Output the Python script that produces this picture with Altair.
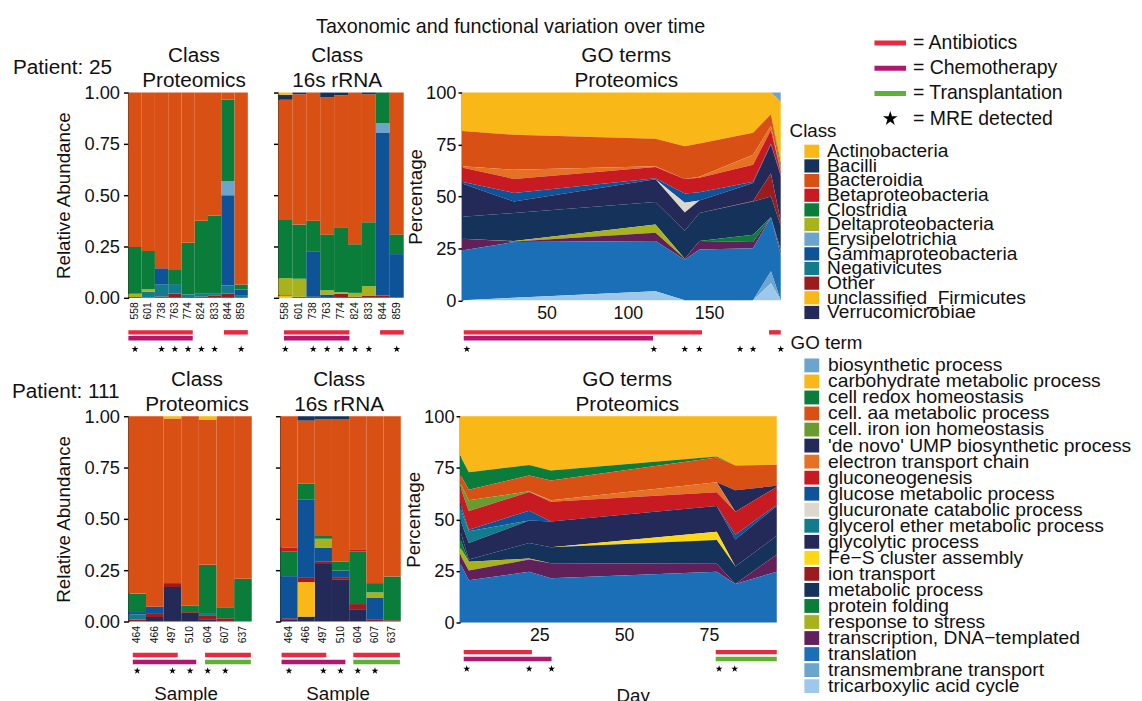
import altair as alt
import pandas as pd

FONT = "Liberation Sans"
INK = "#111111"

# ---------------- categories and colours ----------------
CLASS_NAMES = ["Actinobacteria", "Bacilli", "Bacteroidia", "Betaproteobacteria",
               "Clostridia", "Deltaproteobacteria", "Erysipelotrichia",
               "Gammaproteobacteria", "Negativicutes", "Other",
               "unclassified_Firmicutes", "Verrucomicrobiae"]
CLASS_COLORS = ["#F9B817", "#15325A", "#D95015", "#C81B21", "#0A7D3B", "#A7B21D",
                "#6BA4CC", "#0E5397", "#137C8C", "#9B1C1F", "#F9B817", "#232A58"]

GO_TERMS = ["biosynthetic process", "carbohydrate metabolic process",
            "cell redox homeostasis", "cell. aa metabolic process",
            "cell. iron ion homeostasis", "'de novo' UMP biosynthetic process",
            "electron transport chain", "gluconeogenesis",
            "glucose metabolic process", "glucuronate catabolic process",
            "glycerol ether metabolic process", "glycolytic process",
            "Fe\u2212S cluster assembly", "ion transport", "metabolic process",
            "protein folding", "response to stress",
            "transcription, DNA\u2212templated", "translation",
            "transmembrane transport", "tricarboxylic acid cycle"]
GO_COLORS = ["#6BA4CC", "#F9B817", "#0A7D3B", "#D95015", "#6A9B2E", "#232A58",
             "#E57224", "#C81B21", "#0E5397", "#DCD9CC", "#137C8C", "#232A58",
             "#FDD816", "#9B1C1F", "#15325A", "#0A7D3B", "#A7B21D", "#62205A",
             "#1B6FB6", "#6BA4CC", "#9DC8EB"]

TREAT_NAMES = ["Antibiotics", "Chemotherapy", "Transplantation"]
TREAT_COLORS = ["#E8293F", "#B1176F", "#5DB233"]
TREAT_LEGEND = ["= Antibiotics", "= Chemotherapy", "= Transplantation", "= MRE detected"]

# ---------------- patient 25 ----------------
P25_SAMPLES = [558, 601, 738, 763, 774, 824, 833, 844, 859]
P25_PROT = {
    "Other":               [0.004, 0.003, 0.006, 0.020, 0.004, 0.006, 0.012, 0.020, 0.000],
    "Negativicutes":       [0.000, 0.026, 0.058, 0.047, 0.012, 0.014, 0.008, 0.040, 0.010],
    "Gammaproteobacteria": [0.000, 0.000, 0.080, 0.000, 0.000, 0.000, 0.000, 0.440, 0.030],
    "Erysipelotrichia":    [0.000, 0.000, 0.000, 0.000, 0.000, 0.000, 0.000, 0.068, 0.000],
    "Deltaproteobacteria": [0.016, 0.013, 0.000, 0.000, 0.000, 0.000, 0.000, 0.000, 0.000],
    "Clostridia":          [0.228, 0.186, 0.000, 0.069, 0.252, 0.356, 0.380, 0.397, 0.025],
    "Bacteroidia":         [0.752, 0.772, 0.856, 0.864, 0.732, 0.624, 0.600, 0.035, 0.935],
}
P25_16S = {
    "unclassified_Firmicutes": [0.010, 0.000, 0.000, 0.000, 0.000, 0.000, 0.000, 0.000, 0.000],
    "Other":               [0.003, 0.005, 0.005, 0.004, 0.019, 0.006, 0.011, 0.011, 0.003],
    "Gammaproteobacteria": [0.000, 0.000, 0.222, 0.012, 0.000, 0.000, 0.000, 0.792, 0.210],
    "Erysipelotrichia":    [0.000, 0.000, 0.000, 0.000, 0.000, 0.000, 0.000, 0.048, 0.000],
    "Deltaproteobacteria": [0.083, 0.088, 0.000, 0.021, 0.008, 0.018, 0.045, 0.000, 0.000],
    "Clostridia":          [0.283, 0.264, 0.149, 0.272, 0.317, 0.237, 0.312, 0.149, 0.096],
    "Bacteroidia":         [0.586, 0.635, 0.624, 0.667, 0.643, 0.739, 0.624, 0.000, 0.691],
    "Bacilli":             [0.024, 0.008, 0.000, 0.024, 0.013, 0.000, 0.008, 0.000, 0.000],
    "Actinobacteria":      [0.011, 0.000, 0.000, 0.000, 0.000, 0.000, 0.000, 0.000, 0.000],
}
P25_MRE_SAMPLES = [558, 738, 763, 774, 824, 833, 859]
P25_PROT_TREAT = [("Antibiotics", 0.0, 4.85), ("Antibiotics", 7.2, 9.0), ("Chemotherapy", 0.0, 4.85)]
P25_16S_TREAT = [("Antibiotics", 0.4, 5.1), ("Antibiotics", 7.3, 9.0), ("Chemotherapy", 0.4, 5.1)]

P25_GO_DAYS = [-2, 30, 117, 135, 144, 177, 188, 194]
P25_GO = {
    "biosynthetic process":               [0.0, 0.0, 0.0, 0.0, 0.0, 0.0, 0.0, 4.5],
    "carbohydrate metabolic process":     [18.5, 20.3, 22.3, 25.8, 24.5, 19.3, 10.5, 29.5],
    "cell redox homeostasis":             [0.0, 0.0, 0.0, 0.0, 0.0, 0.0, 0.0, 2.0],
    "cell. aa metabolic process":         [17.0, 16.9, 13.2, 15.8, 16.0, 10.7, 5.5, 1.5],
    "electron transport chain":           [0.6, 4.4, 0.3, 0.0, 0.5, 4.8, 2.0, 0.5],
    "gluconeogenesis":                    [6.9, 6.7, 5.4, 7.0, 7.0, 8.2, 6.5, 1.5],
    "glucose metabolic process":          [0.8, 4.2, 0.5, 4.4, 4.0, 0.5, 0.5, 0.5],
    "glucuronate catabolic process":      [0.0, 0.0, 0.0, 4.8, 0.0, 0.0, 0.0, 0.0],
    "glycolytic process":                 [16.0, 5.5, 11.0, 8.7, 6.0, 8.7, 14.0, 22.0],
    "ion transport":                      [0.0, 0.0, 0.0, 0.0, 0.0, 0.3, 11.0, 2.0],
    "metabolic process":                  [10.6, 13.5, 10.8, 13.5, 13.5, 16.0, 10.0, 11.5],
    "protein folding":                    [0.0, 0.0, 0.0, 0.0, 0.0, 3.5, 0.0, 0.5],
    "response to stress":                 [0.0, 0.2, 4.0, 0.0, 0.0, 0.0, 0.0, 0.0],
    "transcription, DNA\u2212templated":  [5.6, 0.3, 4.0, 0.5, 4.0, 3.0, 0.0, 2.0],
    "translation":                        [24.0, 26.8, 24.2, 19.5, 24.5, 25.0, 26.0, 22.0],
    "transmembrane transport":            [0.0, 0.0, 0.0, 0.0, 0.0, 0.0, 5.8, 0.0],
    "tricarboxylic acid cycle":           [0.0, 1.2, 4.3, 0.0, 0.0, 0.0, 8.2, 0.0],
}
P25_GO_TREAT = [("Antibiotics", -0.9, 145.6), ("Antibiotics", 186.8, 194.0), ("Chemotherapy", -0.9, 115.5)]
P25_MRE_DAYS = [1, 116, 135, 144, 169, 177, 194]

# ---------------- patient 111 ----------------
P111_SAMPLES = [464, 466, 497, 510, 604, 607, 637]
P111_PROT = {
    "Verrucomicrobiae":    [0.000, 0.022, 0.168, 0.042, 0.011, 0.000, 0.000],
    "Other":               [0.010, 0.015, 0.019, 0.004, 0.016, 0.016, 0.000],
    "Negativicutes":       [0.025, 0.000, 0.000, 0.000, 0.010, 0.000, 0.000],
    "Gammaproteobacteria": [0.011, 0.035, 0.000, 0.000, 0.000, 0.000, 0.000],
    "Clostridia":          [0.090, 0.000, 0.000, 0.031, 0.239, 0.053, 0.208],
    "Bacteroidia":         [0.864, 0.928, 0.802, 0.923, 0.708, 0.931, 0.792],
    "Actinobacteria":      [0.000, 0.000, 0.011, 0.000, 0.016, 0.000, 0.000],
}
P111_16S = {
    "Verrucomicrobiae":        [0.008, 0.024, 0.280, 0.203, 0.060, 0.000, 0.000],
    "unclassified_Firmicutes": [0.000, 0.168, 0.000, 0.000, 0.000, 0.000, 0.000],
    "Other":                   [0.008, 0.024, 0.013, 0.013, 0.025, 0.008, 0.006],
    "Gammaproteobacteria":     [0.205, 0.380, 0.067, 0.032, 0.000, 0.109, 0.000],
    "Deltaproteobacteria":     [0.000, 0.000, 0.043, 0.000, 0.000, 0.025, 0.000],
    "Clostridia":              [0.119, 0.077, 0.013, 0.045, 0.255, 0.045, 0.213],
    "Betaproteobacteria":      [0.021, 0.000, 0.000, 0.000, 0.012, 0.000, 0.000],
    "Bacteroidia":             [0.639, 0.306, 0.571, 0.691, 0.648, 0.813, 0.781],
    "Bacilli":                 [0.000, 0.021, 0.013, 0.016, 0.000, 0.000, 0.000],
}
P111_MRE_SAMPLES = [464, 497, 510, 604, 607]
P111_PROT_TREAT = [("Antibiotics", 0.25, 2.8), ("Antibiotics", 4.35, 6.95),
                   ("Chemotherapy", 0.25, 3.85), ("Transplantation", 4.35, 6.95)]
P111_16S_TREAT = [("Antibiotics", 0.07, 2.67), ("Antibiotics", 4.24, 6.95),
                  ("Chemotherapy", 0.07, 3.78), ("Transplantation", 4.24, 6.95)]

P111_GO_DAYS = [1.6, 4.2, 22, 28.4, 77.3, 82.8, 95]
P111_GO = {
    "carbohydrate metabolic process":     [19.0, 27.1, 23.6, 26.3, 19.5, 23.9, 23.5],
    "cell redox homeostasis":             [9.0, 8.5, 5.1, 4.8, 0.5, 0.0, 0.0],
    "cell. aa metabolic process":         [4.0, 5.1, 7.7, 9.6, 12.0, 12.0, 10.2],
    "cell. iron ion homeostasis":         [2.0, 5.3, 0.3, 0.0, 0.0, 0.0, 0.0],
    "'de novo' UMP biosynthetic process": [0.0, 0.0, 0.0, 0.0, 0.0, 10.4, 0.6],
    "electron transport chain":           [0.0, 0.0, 0.0, 0.8, 4.8, 0.0, 0.0],
    "gluconeogenesis":                    [8.0, 9.0, 9.1, 9.5, 6.7, 11.1, 8.7],
    "glucose metabolic process":          [2.0, 0.8, 4.8, 0.0, 0.0, 2.4, 0.5],
    "glycerol ether metabolic process":   [6.0, 5.6, 0.0, 0.0, 0.0, 0.0, 0.0],
    "glycolytic process":                 [5.0, 8.1, 10.8, 12.5, 12.5, 13.1, 14.5],
    "Fe\u2212S cluster assembly":         [0.0, 0.0, 0.0, 0.0, 4.0, 0.0, 0.0],
    "metabolic process":                  [4.0, 1.0, 7.6, 7.8, 11.5, 8.4, 9.0],
    "protein folding":                    [4.5, 0.0, 0.0, 0.0, 0.0, 0.0, 0.0],
    "response to stress":                 [3.5, 4.3, 0.5, 0.0, 0.0, 0.0, 0.0],
    "transcription, DNA\u2212templated":  [4.0, 4.7, 5.9, 7.3, 3.9, 0.0, 8.4],
    "translation":                        [29.0, 20.5, 24.6, 21.4, 24.6, 18.7, 24.6],
}
P111_GO_TREAT = [("Antibiotics", 2.7, 22.8), ("Antibiotics", 77.0, 95.0),
                 ("Chemotherapy", 2.7, 28.6), ("Transplantation", 77.0, 95.0)]
P111_MRE_DAYS = [3.6, 22, 28.6, 78, 82.6]

# ---------------- helpers ----------------
STAR = ("M0,-1L0.2245,-0.309L0.951,-0.309L0.363,0.118L0.588,0.809L0,0.382"
        "L-0.588,0.809L-0.363,0.118L-0.951,-0.309L-0.2245,-0.309Z")
LANES = [["Antibiotics"], ["Chemotherapy", "Transplantation"]]


def long_bar(samples, comp):
    rows = []
    for name, vals in comp.items():
        k = CLASS_NAMES.index(name)
        for s, v in zip(samples, vals):
            rows.append(dict(sample=str(s), cls=name, value=v,
                             stk=len(CLASS_NAMES) - k, col=CLASS_COLORS[k]))
    return pd.DataFrame(rows)


def long_go(days, comp):
    rows = []
    for name, vals in comp.items():
        k = GO_TERMS.index(name)
        for d, v in zip(days, vals):
            rows.append(dict(day=d, term=name, value=v,
                             stk=len(GO_TERMS) - k, col=GO_COLORS[k]))
    return pd.DataFrame(rows)


def treat_df(items):
    return pd.DataFrame([dict(treatment=t, start=a, end=b,
                              col=TREAT_COLORS[TREAT_NAMES.index(t)]) for t, a, b in items])


def strip_layers(items, xscale, lane_ys):
    df = treat_df(items)
    out = []
    for lane, names in enumerate(LANES):
        sub = df[df["treatment"].isin(names)]
        if len(sub) == 0:
            continue
        out.append(alt.Chart(sub).mark_rule(strokeWidth=4.5, strokeCap="butt").encode(
            x=alt.X("start:Q", scale=xscale, axis=None),
            x2="end:Q",
            y=alt.value(lane_ys[lane]),
            color=alt.Color("col:N", scale=None)))
    return out


def text_layer(text, px, py, size=21, align="center"):
    return alt.Chart(pd.DataFrame({"t": [text]})).mark_text(
        align=align, baseline="alphabetic", fontSize=size, color=INK, font=FONT
    ).encode(text="t:N", x=alt.value(px), y=alt.value(py))


def title_layers(lines, w, dx):
    return [text_layer(lines[0], w / 2 + dx, -31),
            text_layer(lines[1], w / 2 + dx, -5.3)]


def bar_panel(samples, comp, treat, mre, w, h, title, tdx, first, xtitle, lane_ys, star_y,
              patient=None, ppos=(0, 0), xtitle_x=0):
    s_str = [str(s) for s in samples]
    band = alt.Scale(type="band", domain=s_str, paddingInner=0, paddingOuter=0)
    xkw = dict(labelAngle=270, labelFontSize=10.5, domain=False, ticks=False, labelPadding=4)
    if xtitle:
        xkw.update(title=xtitle, titleFontSize=19, titlePadding=43, titleX=xtitle_x)
    else:
        xkw.update(title=None)
    ykw = dict(values=[0, 0.25, 0.5, 0.75, 1.0], tickSize=5, tickWidth=1.5,
               domainWidth=1.5, labelFlush=False)
    if first:
        ykw.update(format=".2f", labelFontSize=18.5, labelPadding=4,
                   title="Relative Abundance", titleFontSize=19, titlePadding=11)
    else:
        ykw.update(labels=False, title=None)
    bars = alt.Chart(long_bar(samples, comp)).mark_bar().encode(
        x=alt.X("sample:N", sort=s_str, scale=band, axis=alt.Axis(**xkw)),
        y=alt.Y("value:Q", stack="zero", scale=alt.Scale(domain=[0, 1], nice=False),
                axis=alt.Axis(**ykw)),
        fill=alt.Fill("col:N", scale=None),
        detail="cls:N",
        order=alt.Order("stk:Q"))
    qscale = alt.Scale(domain=[0, len(samples)], nice=False, zero=False)
    rules = strip_layers(treat, qscale, lane_ys)
    stars = alt.Chart(pd.DataFrame({"sample": [str(s) for s in mre]})).mark_point(
        shape=STAR, filled=True, color="black", size=55, opacity=1
    ).encode(x=alt.X("sample:N", scale=band, axis=None), y=alt.value(star_y))
    layers = [bars] + rules + [stars] + title_layers(title, w, tdx)
    if patient:
        layers.append(text_layer(patient, ppos[0], ppos[1], align="left"))
    return alt.layer(*layers).resolve_scale(x="independent").properties(width=w, height=h)


def go_panel(days, comp, domain, xvals, treat, mre_days, w, h, tdx, xtitle, lane_ys, star_y,
             xtitle_x=0):
    xscale = alt.Scale(domain=domain, nice=False, zero=False)
    xkw = dict(values=xvals, format="d", labelFontSize=18, domain=False, ticks=False,
               labelPadding=4, labelFlush=False)
    if xtitle:
        xkw.update(title=xtitle, titleFontSize=19, titlePadding=43, titleX=xtitle_x)
    else:
        xkw.update(title=None)
    area = alt.Chart(long_go(days, comp)).mark_area(interpolate="linear").encode(
        x=alt.X("day:Q", scale=xscale, axis=alt.Axis(**xkw)),
        y=alt.Y("value:Q", stack="zero", scale=alt.Scale(domain=[0, 100], nice=False),
                axis=alt.Axis(values=[0, 25, 50, 75, 100], tickSize=4, tickWidth=1.5,
                              domainWidth=1.5, labelFontSize=18.5, labelPadding=2,
                              labelFlush=False, title="Percentage", titleFontSize=19,
                              titlePadding=0)),
        fill=alt.Fill("col:N", scale=None),
        detail="term:N",
        order=alt.Order("stk:Q"))
    rules = strip_layers(treat, xscale, lane_ys)
    stars = alt.Chart(pd.DataFrame({"day": mre_days})).mark_point(
        shape=STAR, filled=True, color="black", size=55, opacity=1
    ).encode(x=alt.X("day:Q", scale=xscale, axis=None), y=alt.value(star_y))
    layers = [area] + rules + [stars] + title_layers(["GO terms", "Proteomics"], w, tdx)
    return alt.layer(*layers).resolve_scale(x="independent").properties(width=w, height=h)


# ---------------- panels ----------------
A = bar_panel(P25_SAMPLES, P25_PROT, P25_PROT_TREAT, P25_MRE_SAMPLES, 121, 208,
              ["Class", "Proteomics"], 6, True, None, (243, 249), 260,
              patient="Patient: 25", ppos=(-117, -19))
B = bar_panel(P25_SAMPLES, P25_16S, P25_16S_TREAT, P25_MRE_SAMPLES, 127, 208,
              ["Class", "16s rRNA"], -4, False, None, (243, 249), 260)
C = go_panel(P25_GO_DAYS, P25_GO, [-2, 194], [50, 100, 150], P25_GO_TREAT, P25_MRE_DAYS,
             323, 210.5, 5, None, (243, 249), 260)

D = bar_panel(P111_SAMPLES, P111_PROT, P111_PROT_TREAT, P111_MRE_SAMPLES, 125, 208,
              ["Class", "Proteomics"], 7, True, "Sample", (242, 249), 258,
              patient="Patient: 111", ppos=(-118, -18), xtitle_x=58)
E = bar_panel(P111_SAMPLES, P111_16S, P111_16S_TREAT, P111_MRE_SAMPLES, 122, 208,
              ["Class", "16s rRNA"], -1.5, False, "Sample", (242, 249), 258, xtitle_x=58)
F = go_panel(P111_GO_DAYS, P111_GO, [1.6, 95], [25, 50, 75], P111_GO_TREAT, P111_MRE_DAYS,
             321, 209, 9, "Day", (239, 246), 256, xtitle_x=175)

row1 = alt.hconcat(alt.hconcat(A, B, spacing=22), C, spacing=0)
row2 = alt.hconcat(alt.hconcat(D, E, spacing=21), F, spacing=2)
grid = alt.vconcat(row1, row2, spacing=17, title=alt.TitleParams(
    "Taxonomic and functional variation over time", fontSize=20, fontWeight="normal",
    anchor="middle", dx=114, offset=8, color=INK, font=FONT))

# ---------------- legend column (positions given in page pixels) ----------------
LEG_X0, LEG_Y0 = 790, 92
LEG_W, LEG_H = 350, 604
lx = alt.Scale(domain=[LEG_X0, LEG_X0 + LEG_W], nice=False, zero=False)
ly = alt.Scale(domain=[LEG_Y0, LEG_Y0 + LEG_H], reverse=True, nice=False, zero=False)

T_Y0, T_DY = 41.7, 25.6
t_rows = pd.DataFrame({"label": TREAT_LEGEND, "x": [916] * 4,
                       "y": [T_Y0 + T_DY * i for i in range(4)]})
t_lines = pd.DataFrame({"x0": [877] * 3, "x1": [909] * 3,
                        "y": [T_Y0 + T_DY * i for i in range(3)], "col": TREAT_COLORS})
t_star = pd.DataFrame({"x": [893], "y": [T_Y0 + T_DY * 3]})

heads = pd.DataFrame({"label": ["Class", "GO term"], "x": [791, 792], "y": [131.5, 346]})

c_items = pd.DataFrame({"label": CLASS_NAMES, "col": CLASS_COLORS,
                        "y": [151.5 + 14.85 * i for i in range(len(CLASS_NAMES))]})
c_items["x"] = 829
c_items["x0"] = 806
c_items["x1"] = 821
c_items["y0"] = c_items["y"] - 6.7
c_items["y1"] = c_items["y"] + 6.7

g_items = pd.DataFrame({"label": GO_TERMS, "col": GO_COLORS,
                        "y": [368.5 + 16.25 * i for i in range(len(GO_TERMS))]})
g_items["x"] = 830
g_items["x0"] = 806
g_items["x1"] = 821
g_items["y0"] = g_items["y"] - 7
g_items["y1"] = g_items["y"] + 7


def leg_text(df, size):
    return alt.Chart(df).mark_text(align="left", baseline="middle", fontSize=size,
                                   color=INK, font=FONT).encode(
        x=alt.X("x:Q", scale=lx, axis=None), y=alt.Y("y:Q", scale=ly, axis=None),
        text="label:N")


def leg_swatch(df):
    return alt.Chart(df).mark_rect().encode(
        x=alt.X("x0:Q", scale=lx, axis=None), x2="x1:Q",
        y=alt.Y("y0:Q", scale=ly, axis=None), y2="y1:Q",
        fill=alt.Fill("col:N", scale=None))


legend = alt.layer(
    alt.Chart(t_lines).mark_rule(strokeWidth=5, strokeCap="butt").encode(
        x=alt.X("x0:Q", scale=lx, axis=None), x2="x1:Q",
        y=alt.Y("y:Q", scale=ly, axis=None), color=alt.Color("col:N", scale=None)),
    alt.Chart(t_star).mark_point(shape=STAR, filled=True, color="black", size=240,
                                 opacity=1).encode(
        x=alt.X("x:Q", scale=lx, axis=None), y=alt.Y("y:Q", scale=ly, axis=None)),
    leg_text(t_rows, 19.7),
    leg_text(heads, 19),
    leg_swatch(c_items),
    leg_text(c_items, 19.4),
    leg_swatch(g_items),
    leg_text(g_items, 19.5),
).properties(width=LEG_W, height=LEG_H)

chart = alt.hconcat(grid, legend, spacing=4).properties(
    padding={"left": 4, "top": 5, "right": 0, "bottom": 0}
).configure(font=FONT).configure_view(strokeWidth=0).configure_axis(
    labelFont=FONT, titleFont=FONT, labelColor=INK, titleColor=INK,
    titleFontWeight="normal", grid=False, domainColor="black", tickColor="black")

chart.save("out.html", embed_options={"renderer": "svg", "actions": False})
